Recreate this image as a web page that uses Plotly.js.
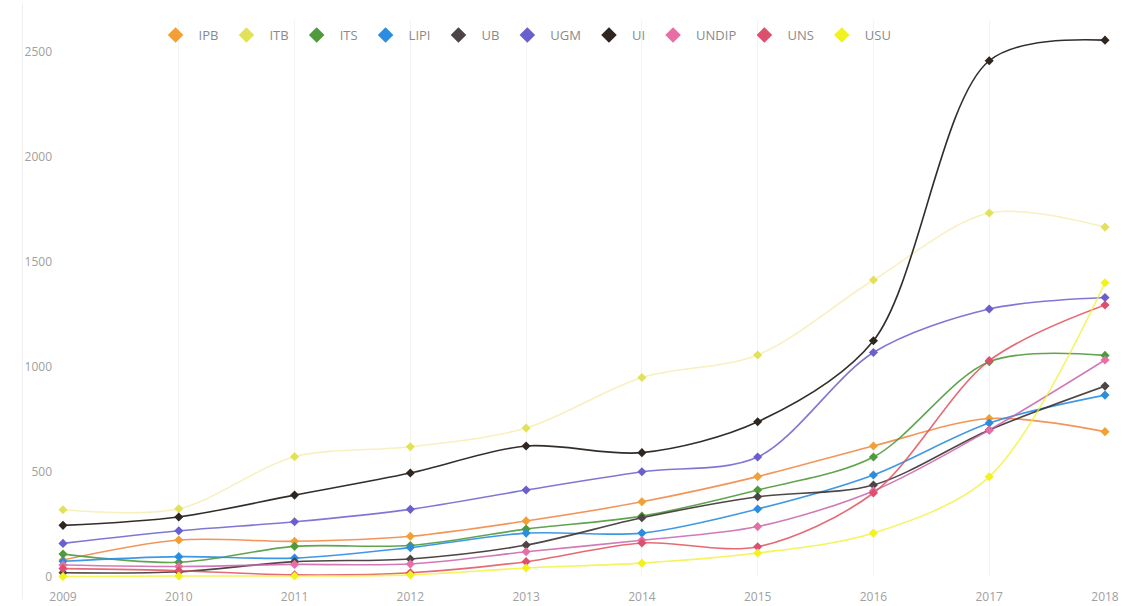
<!DOCTYPE html>
<html>
<head>
<meta charset="utf-8">
<script src="https://cdn.plot.ly/plotly-3.0.1.min.js"></script>
<style>html,body{margin:0;padding:0;background:#fff;}#chart{width:1125px;height:606px;}</style>
</head>
<body>
<div id="chart"></div>
<script>
const years = [2009, 2010, 2011, 2012, 2013, 2014, 2015, 2016, 2017, 2018];
const seriesNames = ["IPB", "ITB", "ITS", "LIPI", "UB", "UGM", "UI", "UNDIP", "UNS", "USU"];

const IPB   = [81, 176, 170, 194, 267, 358, 478, 624, 755, 692];
const ITB   = [320, 325, 573, 620, 709, 950, 1057, 1414, 1733, 1666];
const ITS   = [109, 70, 146, 150, 228, 290, 414, 571, 1025, 1055];
const LIPI  = [75, 97, 90, 140, 209, 209, 324, 486, 733, 866];
const UB    = [20, 25, 73, 86, 152, 282, 382, 438, 700, 909];
const UGM   = [160, 220, 263, 322, 414, 501, 571, 1069, 1276, 1331];
const UI    = [246, 286, 390, 495, 624, 592, 739, 1125, 2458, 2556];
const UNDIP = [57, 50, 60, 62, 120, 175, 240, 410, 700, 1033];
const UNS   = [40, 30, 10, 20, 73, 162, 144, 400, 1030, 1295];
const USU   = [2, 5, 5, 10, 43, 66, 114, 209, 477, 1401];

const seriesValues = [IPB, ITB, ITS, LIPI, UB, UGM, UI, UNDIP, UNS, USU];
const markerColors = ["#f2a033", "#e2e25a", "#4f9a3c", "#2a8de0", "#4d4545", "#6a5fcc", "#2f2620", "#e66fa6", "#dc4f6d", "#f2f21e"];
const lineColors   = ["rgba(240,130,60,0.85)", "rgba(240,228,140,0.55)", "rgba(79,154,60,0.9)", "rgba(42,141,224,0.9)", "rgba(60,50,50,0.9)", "rgba(106,95,204,0.85)", "rgba(40,34,30,0.95)", "rgba(200,100,170,0.85)", "rgba(225,80,90,0.85)", "rgba(240,240,40,0.75)"];

const traces = [];
seriesNames.forEach((name, i) => {
  traces.push({
    x: years, y: seriesValues[i], type: "scatter", mode: "lines",
    line: {color: lineColors[i], width: 1.6, shape: "spline", smoothing: 0.9},
    showlegend: false, hoverinfo: "skip", cliponaxis: false
  });
});
seriesNames.forEach((name, i) => {
  traces.push({
    x: years, y: seriesValues[i], type: "scatter", mode: "markers", name: name,
    marker: {symbol: "diamond", size: 7, color: markerColors[i]},
    cliponaxis: false
  });
});

const layout = {
  width: 1125, height: 606,
  margin: {l: 63, r: 20, t: 20, b: 29},
  paper_bgcolor: "#fff", plot_bgcolor: "#fff",
  font: {family: "Open Sans, sans-serif", color: "#999", size: 12},
  showlegend: true,
  legend: {orientation: "h", x: 0.086, xanchor: "left", y: 0.973, yanchor: "middle", itemwidth: 36,
           font: {size: 13, color: "#8a8a8a"}, bgcolor: "rgba(0,0,0,0)", itemsizing: "constant"},
  xaxis: {range: [2009, 2018], tickmode: "array", tickvals: years, ticktext: years.map(String),
          showgrid: true, gridcolor: "#f4f4f4", zeroline: false, showline: false,
          ticks: "", ticklabelstandoff: 11, tickfont: {size: 12, color: "#a0a0a0"}},
  yaxis: {range: [0, 2652], tickmode: "array", tickvals: [0, 500, 1000, 1500, 2000, 2500],
          showgrid: false, zeroline: false, showline: false, ticks: "",
          ticklabelstandoff: 10, tickfont: {size: 12, color: "#a0a0a0"}},
  shapes: [{type: "line", xref: "paper", yref: "paper", x0: -0.039, x1: -0.039, y0: -0.04, y1: 1.03,
            line: {color: "#eeeeee", width: 1}}]
};

Plotly.newPlot("chart", traces, layout, {displayModeBar: false, staticPlot: true});
</script>
</body>
</html>
